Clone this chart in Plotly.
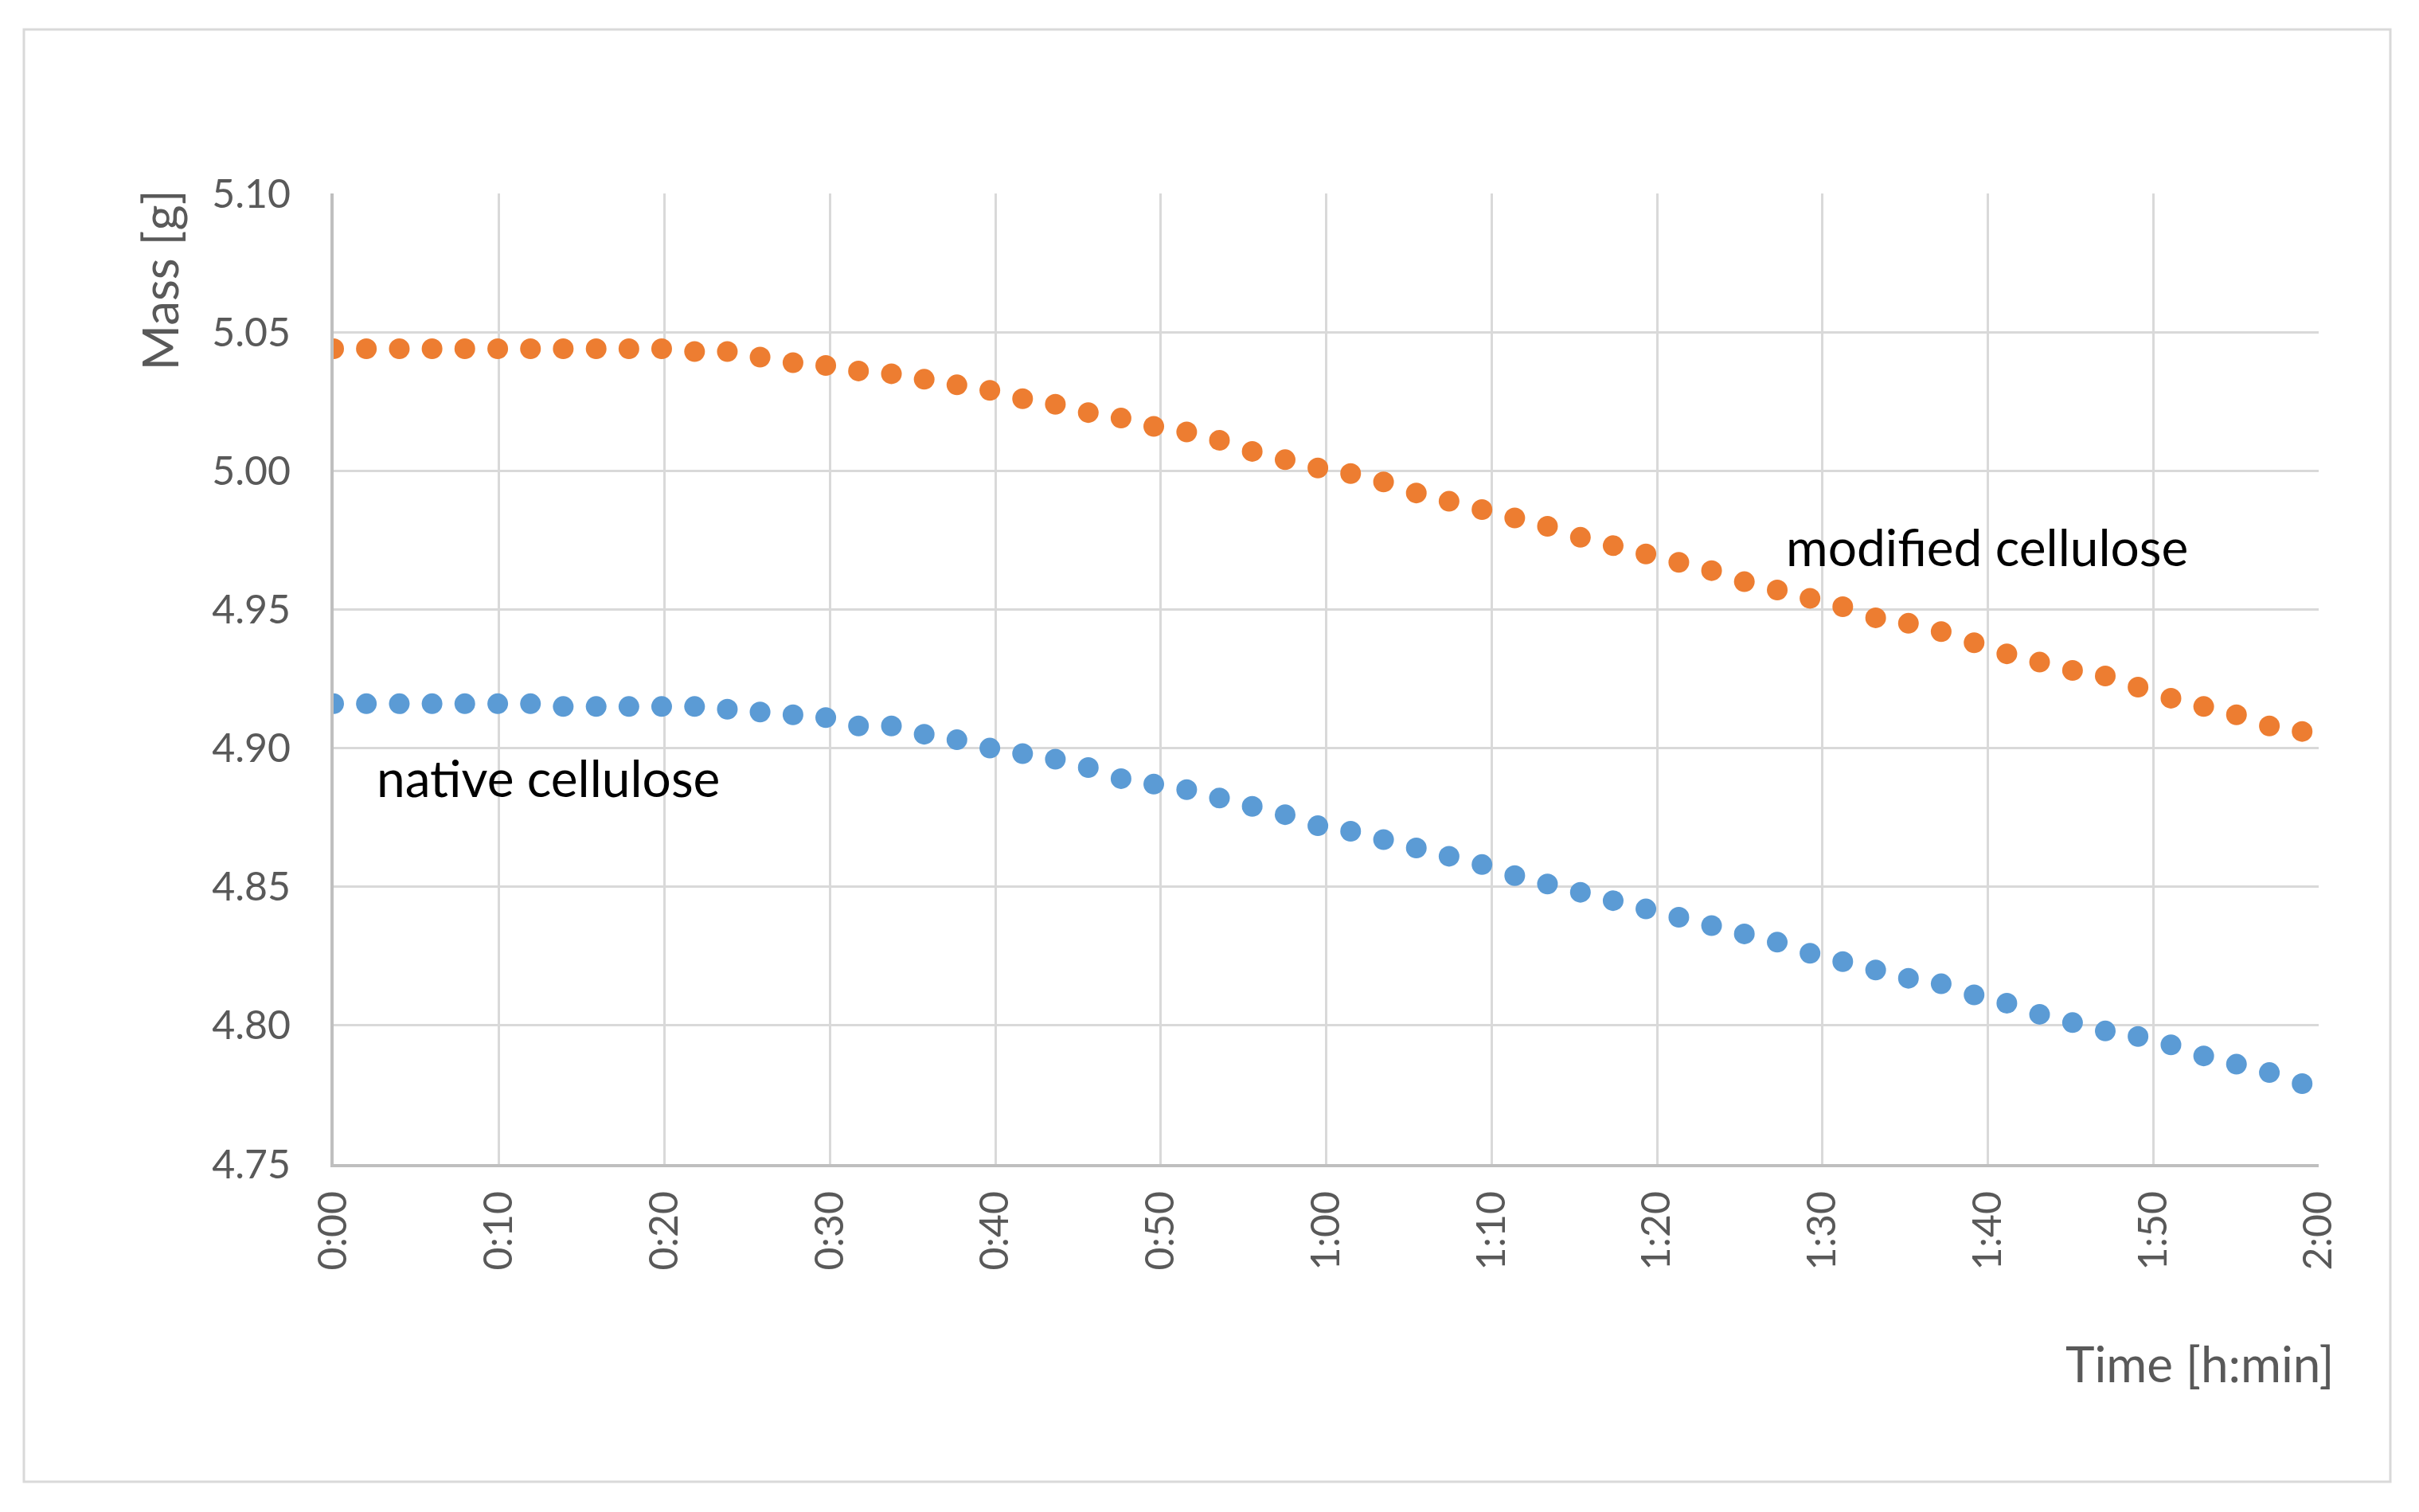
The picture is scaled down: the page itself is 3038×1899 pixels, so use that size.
import plotly.graph_objects as go

# time of each weighing, in minutes from start
time_min = [0.00, 1.98, 3.97, 5.95, 7.93, 9.92, 11.90, 13.88, 15.87, 17.85,
            19.83, 21.82, 23.80, 25.78, 27.77, 29.75, 31.73, 33.72, 35.70, 37.68,
            39.67, 41.65, 43.63, 45.62, 47.60, 49.58, 51.57, 53.55, 55.53, 57.52,
            59.50, 61.48, 63.47, 65.45, 67.43, 69.42, 71.40, 73.38, 75.37, 77.35,
            79.33, 81.32, 83.30, 85.28, 87.27, 89.25, 91.23, 93.22, 95.20, 97.18,
            99.17, 101.15, 103.13, 105.12, 107.10, 109.08, 111.07, 113.05, 115.03, 117.02,
            119.00]

modified_mass = [5.044, 5.044, 5.044, 5.044, 5.044, 5.044, 5.044, 5.044, 5.044, 5.044,
                 5.044, 5.043, 5.043, 5.041, 5.039, 5.038, 5.036, 5.035, 5.033, 5.031,
                 5.029, 5.026, 5.024, 5.021, 5.019, 5.016, 5.014, 5.011, 5.007, 5.004,
                 5.001, 4.999, 4.996, 4.992, 4.989, 4.986, 4.983, 4.980, 4.976, 4.973,
                 4.970, 4.967, 4.964, 4.960, 4.957, 4.954, 4.951, 4.947, 4.945, 4.942,
                 4.938, 4.934, 4.931, 4.928, 4.926, 4.922, 4.918, 4.915, 4.912, 4.908,
                 4.906]

native_mass = [4.916, 4.916, 4.916, 4.916, 4.916, 4.916, 4.916, 4.915, 4.915, 4.915,
               4.915, 4.915, 4.914, 4.913, 4.912, 4.911, 4.908, 4.908, 4.905, 4.903,
               4.900, 4.898, 4.896, 4.893, 4.889, 4.887, 4.885, 4.882, 4.879, 4.876,
               4.872, 4.870, 4.867, 4.864, 4.861, 4.858, 4.854, 4.851, 4.848, 4.845,
               4.842, 4.839, 4.836, 4.833, 4.830, 4.826, 4.823, 4.820, 4.817, 4.815,
               4.811, 4.808, 4.804, 4.801, 4.798, 4.796, 4.793, 4.789, 4.786, 4.783,
               4.779]

x_tick_vals = [0, 10, 20, 30, 40, 50, 60, 70, 80, 90, 100, 110, 120]
x_tick_text = ["0:00", "0:10", "0:20", "0:30", "0:40", "0:50", "1:00",
               "1:10", "1:20", "1:30", "1:40", "1:50", "2:00"]
y_tick_vals = [4.75, 4.80, 4.85, 4.90, 4.95, 5.00, 5.05, 5.10]

FONT = "Lato"
GREY = "#595959"

W, H = 3038, 1899
L, R, T, B = 419, 2912, 243, 1462  # plot area in pixels
pw, ph = R - L, B - T


def px(x):
    return (x - L) / pw


def py(y):
    return (B - y) / ph


fig = go.Figure()
fig.add_trace(go.Scatter(x=time_min, y=native_mass, mode="markers",
                         name="native cellulose",
                         marker=dict(color="#5B9BD5", size=26, line=dict(width=0))))
fig.add_trace(go.Scatter(x=time_min, y=modified_mass, mode="markers",
                         name="modified cellulose",
                         marker=dict(color="#ED7D31", size=26, line=dict(width=0))))

fig.update_layout(
    width=W, height=H,
    margin=dict(l=L, r=W - R, t=T, b=H - B, pad=0),
    paper_bgcolor="white", plot_bgcolor="white",
    showlegend=False,
    font=dict(family=FONT, color=GREY),
    xaxis=dict(range=[0, 120], tickmode="array", tickvals=x_tick_vals,
               ticktext=x_tick_text, tickangle=-90,
               tickfont=dict(family=FONT, size=50, color=GREY),
               showgrid=True, gridcolor="#D9D9D9", gridwidth=3,
               showline=True, linecolor="#BFBFBF", linewidth=4,
               zeroline=False, ticks="", ticklabelstandoff=10),
    yaxis=dict(range=[4.75, 5.10], tickmode="array", tickvals=y_tick_vals,
               tickformat=".2f",
               tickfont=dict(family=FONT, size=50, color=GREY),
               showgrid=True, gridcolor="#D9D9D9", gridwidth=3,
               showline=True, linecolor="#BFBFBF", linewidth=4,
               zeroline=False, ticks="", ticklabelstandoff=40),
    shapes=[dict(type="rect", xref="paper", yref="paper",
                 x0=px(30), x1=px(3002), y0=py(1861), y1=py(37),
                 line=dict(color="#D9D9D9", width=3), fillcolor="rgba(0,0,0,0)",
                 layer="below")],
    annotations=[
        dict(text="Mass [g]", xref="paper", yref="paper", x=px(199), y=py(237),
             xanchor="center", yanchor="top", textangle=-90, showarrow=False,
             font=dict(family=FONT, size=62, color=GREY)),
        dict(text="Time [h:min]", xref="paper", yref="paper", x=px(2934), y=py(1712),
             xanchor="right", yanchor="middle", showarrow=False,
             font=dict(family=FONT, size=62, color=GREY)),
        dict(text="modified cellulose", xref="x", yref="y", x=87.7, y=4.9728,
             xanchor="left", yanchor="middle", showarrow=False,
             font=dict(family=FONT, size=64, color="#000000")),
        dict(text="native cellulose", xref="x", yref="y", x=2.5, y=4.8893,
             xanchor="left", yanchor="middle", showarrow=False,
             font=dict(family=FONT, size=64, color="#000000")),
    ],
)

fig.write_html("out.html", config={"displayModeBar": False},
               post_script="document.body.style.margin='0';")
